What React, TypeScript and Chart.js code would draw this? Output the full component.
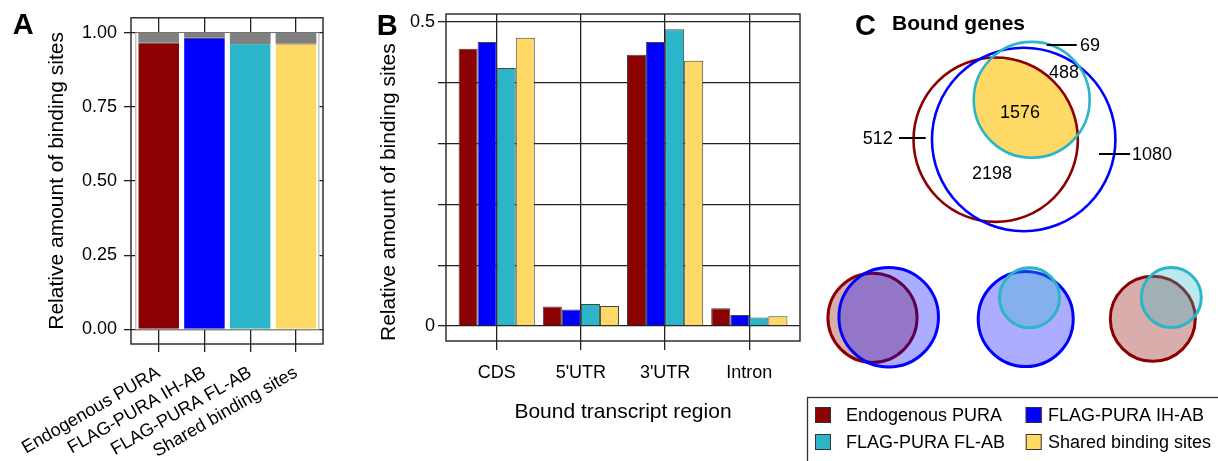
import React, { useEffect, useRef } from 'react';
import { Chart, registerables } from 'chart.js';

Chart.register(...registerables);

const FONT = "'Liberation Sans', Arial, Helvetica, sans-serif";
Chart.defaults.font.family = FONT;
Chart.defaults.color = '#000';

// ---------- shared series ----------
const seriesNames = ['Endogenous PURA', 'FLAG-PURA IH-AB', 'FLAG-PURA FL-AB', 'Shared binding sites'];
const seriesColors = ['#8B0000', '#0000FF', '#2BB5C8', '#FFD966'];

// ---------- panel A ----------
const aBoundShare = [0.967, 0.983, 0.964, 0.963];
const aOtherShare = [0.033, 0.017, 0.036, 0.037];
const aYTicks = [0, 0.25, 0.5, 0.75, 1];

// ---------- panel B ----------
const regions = ['CDS', "5'UTR", "3'UTR", 'Intron'];
const bEndogenous = [0.456, 0.032, 0.446, 0.029];
const bIH = [0.467, 0.027, 0.467, 0.018];
const bFL = [0.424, 0.036, 0.488, 0.014];
const bShared = [0.474, 0.033, 0.436, 0.016];
const bYTicks = [0, 0.1, 0.2, 0.3, 0.4, 0.5];
const bLabelledTicks = [0, 0.5];

// ---------- panel C (Venn counts) ----------
const vennRegionNames = ['Endogenous only', 'IH-AB only', 'FL-AB only', 'Endogenous & IH-AB', 'IH-AB & FL-AB', 'All three'];
const vennRegionCounts = [512, 1080, 69, 2198, 488, 1576];
const vennSetNames = ['Endogenous PURA', 'FLAG-PURA IH-AB', 'FLAG-PURA FL-AB'];
const vennSetColors = ['#8B0000', '#0000FF', '#2BB5C8'];
const vennSetFills = ['rgba(139,0,0,0.32)', 'rgba(0,0,255,0.32)', 'rgba(43,181,200,0.32)'];

// set sizes derived from the region counts
const setSizes = [
  vennRegionCounts[0] + vennRegionCounts[3] + vennRegionCounts[5],
  vennRegionCounts[1] + vennRegionCounts[3] + vennRegionCounts[4] + vennRegionCounts[5],
  vennRegionCounts[2] + vennRegionCounts[4] + vennRegionCounts[5],
];

// layout of the Venn diagrams (canvas-C units)
const vennLayout = [
  { k: 1.255, sets: [0, 1, 2], centers: [[195.7, 139.7], [223.7, 139.5], [231.7, 99.8]], filled: false, lw: 2.6 },
  { k: 0.681, sets: [0, 1], centers: [[72.5, 317.8], [88.7, 317.2]], filled: true, lw: 3 },
  { k: 0.65, sets: [1, 2], centers: [[225.7, 319], [229.5, 297.8]], filled: true, lw: 3 },
  { k: 0.649, sets: [0, 2], centers: [[352.8, 318.8], [371.3, 297.5]], filled: true, lw: 3 },
];
// label placement per region (canvas-C units) and optional leader line
const vennLabelLayout = [
  { x: 77.7, y: 138, align: 'center', lead: [99, 125.7, 138] },
  { x: 332, y: 154.5, align: 'left', lead: [299, 330, 154] },
  { x: 280, y: 45.5, align: 'left', lead: [246.7, 276.7, 45] },
  { x: 192, y: 172.7, align: 'center', lead: null },
  { x: 264, y: 72, align: 'center', lead: null },
  { x: 220, y: 112, align: 'center', lead: null },
];

const letterPlugin = (letter: string, x: number, y: number) => ({
  id: 'letter' + letter,
  afterDraw(chart: any) {
    const ctx = chart.ctx;
    ctx.save();
    ctx.font = `bold 29px ${FONT}`;
    ctx.fillStyle = '#000';
    ctx.textAlign = 'left';
    ctx.textBaseline = 'alphabetic';
    ctx.fillText(letter, x, y);
    ctx.restore();
  },
});

const boxPlugin = {
  id: 'box',
  afterDraw(chart: any) {
    const { ctx, chartArea } = chart;
    ctx.save();
    ctx.strokeStyle = '#222';
    ctx.lineWidth = 1.4;
    ctx.strokeRect(chartArea.left, chartArea.top, chartArea.right - chartArea.left, chartArea.bottom - chartArea.top);
    ctx.restore();
  },
};

const whitePanelPlugin = {
  id: 'whitePanel',
  beforeDatasetsDraw(chart: any) {
    const meta = chart.getDatasetMeta(0);
    const y = chart.scales.y;
    let l = Infinity, r = -Infinity;
    meta.data.forEach((el: any) => {
      l = Math.min(l, el.x - el.width / 2);
      r = Math.max(r, el.x + el.width / 2);
    });
    const ctx = chart.ctx;
    ctx.save();
    const top = y.getPixelForValue(1);
    const bot = y.getPixelForValue(0);
    ctx.fillStyle = '#fff';
    ctx.fillRect(l - 3, top, r - l + 6, bot - top);
    ctx.strokeStyle = '#aaa';
    ctx.lineWidth = 1;
    ctx.beginPath();
    ctx.moveTo(l - 2.5, top);
    ctx.lineTo(l - 2.5, bot);
    ctx.moveTo(r + 2.5, top);
    ctx.lineTo(r + 2.5, bot);
    ctx.stroke();
    ctx.restore();
  },
};

const gridStyle = { color: '#222', lineWidth: 1.3, offset: false };

export default function App() {
  const aRef = useRef<HTMLCanvasElement>(null);
  const bRef = useRef<HTMLCanvasElement>(null);
  const cRef = useRef<HTMLCanvasElement>(null);

  useEffect(() => {
    // ---------------- Panel A ----------------
    const chartA = new Chart(aRef.current!, {
      type: 'bar',
      data: {
        datasets: [
          {
            label: 'bound',
            data: aBoundShare.map((v, i) => ({ x: i + 1, y: v })),
            backgroundColor: seriesColors,
            borderColor: '#333',
            borderWidth: { top: 1, left: 0, right: 0, bottom: 0 },
            borderSkipped: false,
            stack: 's',
            categoryPercentage: 1,
            barPercentage: 0.89,
          },
          {
            label: 'other',
            data: aOtherShare.map((v, i) => ({ x: i + 1, y: v })),
            backgroundColor: '#808080',
            borderWidth: 0,
            stack: 's',
            categoryPercentage: 1,
            barPercentage: 0.89,
          },
        ],
      } as any,
      options: {
        animation: false,
        responsive: false,
        maintainAspectRatio: false,
        layout: { padding: { left: 45, top: 15, right: 37, bottom: 0 } },
        plugins: { legend: { display: false }, tooltip: { enabled: false } },
        scales: {
          x: {
            type: 'linear',
            offset: false,
            min: 0.395,
            max: 4.59,
            stacked: true,
            afterBuildTicks: (s: any) => { s.ticks = [1, 2, 3, 4].map((v) => ({ value: v })); },
            afterFit: (s: any) => { s.height = 117; s.paddingLeft = 0; s.paddingRight = 0; },
            ticks: {
              callback: (v: any) => seriesNames[Math.round(v) - 1],
              minRotation: 30,
              maxRotation: 30,
              autoSkip: false,
              font: { size: 18 },
              color: '#000',
              padding: 10,
            },
            grid: { ...gridStyle, tickLength: 8 },
            border: { display: false },
          },
          y: {
            type: 'linear',
            min: -0.049,
            max: 1.05,
            stacked: true,
            afterBuildTicks: (s: any) => { s.ticks = aYTicks.map((v) => ({ value: v })); },
            afterFit: (s: any) => { s.width = 86; },
            ticks: { callback: (v: any) => Number(v).toFixed(2), font: { size: 18 }, color: '#000', padding: 7 },
            grid: { ...gridStyle, tickLength: 7 },
            border: { display: false },
            title: { display: true, text: 'Relative amount of binding sites', font: { size: 21 }, color: '#000', padding: 0 },
          },
        },
      } as any,
      plugins: [whitePanelPlugin, boxPlugin, letterPlugin('A', 12.7, 34.3)],
    });

    // ---------------- Panel B ----------------
    const bSeries = [bEndogenous, bIH, bFL, bShared];
    const chartB = new Chart(bRef.current!, {
      type: 'bar',
      data: {
        datasets: bSeries.map((vals, si) => ({
          label: seriesNames[si],
          data: vals.map((v, i) => ({ x: i + 1, y: v })),
          backgroundColor: seriesColors[si],
          borderColor: '#444',
          borderWidth: 1,
          categoryPercentage: 0.905,
          barPercentage: 1,
        })),
      } as any,
      options: {
        animation: false,
        responsive: false,
        maintainAspectRatio: false,
        layout: { padding: { left: 17, top: 14, right: 20, bottom: 36 } },
        plugins: { legend: { display: false }, tooltip: { enabled: false } },
        scales: {
          x: {
            type: 'linear',
            offset: false,
            min: 0.398,
            max: 4.602,
            afterBuildTicks: (s: any) => { s.ticks = [1, 2, 3, 4].map((v) => ({ value: v })); },
            afterFit: (s: any) => { s.height = 84; s.paddingLeft = 0; s.paddingRight = 0; },
            ticks: {
              callback: (v: any) => regions[Math.round(v) - 1],
              maxRotation: 0,
              minRotation: 0,
              autoSkip: false,
              font: { size: 18 },
              color: '#000',
              padding: 12,
            },
            grid: { ...gridStyle, tickLength: 9 },
            border: { display: false },
            title: { display: true, text: 'Bound transcript region', font: { size: 21 }, color: '#000', padding: 0 },
          },
          y: {
            type: 'linear',
            min: -0.0247,
            max: 0.513,
            afterBuildTicks: (s: any) => { s.ticks = bYTicks.map((v) => ({ value: v })); },
            afterFit: (s: any) => { s.width = 69; },
            ticks: {
              callback: (v: any) => (bLabelledTicks.some((t) => Math.abs(t - v) < 1e-9) ? String(Number(v)) : ''),
              font: { size: 18 },
              color: '#000',
              padding: 3,
            },
            grid: { ...gridStyle, tickLength: 8 },
            border: { display: false },
            title: { display: true, text: 'Relative amount of binding sites', font: { size: 21 }, color: '#000', padding: 0, align: 'start' },
          },
        },
      } as any,
      plugins: [boxPlugin, letterPlugin('B', 16.7, 35)],
    });

    // ---------------- Panel C ----------------
    const cDatasets: any[] = [];
    vennLayout.forEach((v) => {
      v.sets.forEach((s, j) => {
        cDatasets.push({
          label: vennSetNames[s],
          data: [{ x: v.centers[j][0], y: v.centers[j][1], r: v.k * Math.sqrt(setSizes[s]) }],
          backgroundColor: v.filled ? vennSetFills[s] : 'rgba(0,0,0,0)',
          borderColor: vennSetColors[s],
          borderWidth: v.lw,
          hoverRadius: 0,
          hoverBorderWidth: v.lw,
          clip: false,
          order: -cDatasets.length, // later circles drawn on top
        });
      });
    });

    const vennPlugin = {
      id: 'venn',
      beforeDatasetsDraw(chart: any) {
        // shared region (Endogenous ∩ FL-AB) in main diagram
        const red = chart.getDatasetMeta(0).data[0];
        const cyan = chart.getDatasetMeta(2).data[0];
        const ctx = chart.ctx;
        ctx.save();
        ctx.beginPath();
        ctx.arc(red.x, red.y, red.options.radius, 0, Math.PI * 2);
        ctx.clip();
        ctx.beginPath();
        ctx.arc(cyan.x, cyan.y, cyan.options.radius, 0, Math.PI * 2);
        ctx.fillStyle = seriesColors[3];
        ctx.fill();
        ctx.restore();
      },
      afterDraw(chart: any) {
        const ctx = chart.ctx;
        const xs = chart.scales.x;
        const ys = chart.scales.y;
        ctx.save();
        // title
        ctx.fillStyle = '#000';
        ctx.textBaseline = 'alphabetic';
        ctx.textAlign = 'left';
        ctx.font = `bold 29px ${FONT}`;
        ctx.fillText('C', 55, 35);
        ctx.font = `bold 21px ${FONT}`;
        ctx.fillText('Bound genes', 92, 30);
        // region counts
        ctx.font = `18px ${FONT}`;
        ctx.textBaseline = 'middle';
        ctx.strokeStyle = '#000';
        ctx.lineWidth = 2;
        vennRegionCounts.forEach((c, i) => {
          const L = vennLabelLayout[i];
          const px = xs.getPixelForValue(L.x);
          const py = ys.getPixelForValue(L.y);
          ctx.textAlign = L.align;
          ctx.fillText(String(c), px, py + 1);
          if (L.lead) {
            ctx.beginPath();
            ctx.moveTo(xs.getPixelForValue(L.lead[0]), ys.getPixelForValue(L.lead[2]));
            ctx.lineTo(xs.getPixelForValue(L.lead[1]), ys.getPixelForValue(L.lead[2]));
            ctx.stroke();
          }
        });
        // legend
        ctx.strokeStyle = '#333';
        ctx.lineWidth = 1.3;
        ctx.strokeRect(7.5, 397.5, 460, 100);
        const cols = [15, 225.7];
        const textX = [46, 248];
        const rows = [415, 442];
        seriesNames.forEach((name, i) => {
          const col = i % 2;
          const row = Math.floor(i / 2);
          ctx.fillStyle = seriesColors[i];
          ctx.fillRect(cols[col], rows[row] - 8, 16, 16);
          ctx.strokeStyle = '#333';
          ctx.lineWidth = 1;
          ctx.strokeRect(cols[col] + 0.5, rows[row] - 7.5, 15, 15);
          ctx.fillStyle = '#000';
          ctx.textAlign = 'left';
          ctx.textBaseline = 'middle';
          ctx.fillText(name, textX[col], rows[row] + 1);
        });
        ctx.restore();
      },
    };

    const chartC = new Chart(cRef.current!, {
      type: 'bubble',
      data: { datasets: cDatasets },
      options: {
        animation: false,
        responsive: false,
        maintainAspectRatio: false,
        layout: { padding: 0, autoPadding: false },
        plugins: { legend: { display: false }, tooltip: { enabled: false } },
        scales: {
          x: { type: 'linear', min: 0, max: 418, display: false },
          y: { type: 'linear', min: 0, max: 461, reverse: true, display: false },
        },
      } as any,
      plugins: [vennPlugin],
    });

    return () => {
      chartA.destroy();
      chartB.destroy();
      chartC.destroy();
    };
  }, []);

  return (
    <div style={{ position: 'absolute', left: 0, top: 0, width: 1218, height: 461, background: '#fff', overflow: 'hidden' }}>
      <canvas ref={aRef} width={360} height={461} style={{ position: 'absolute', left: 0, top: 0 }} />
      <canvas ref={bRef} width={460} height={461} style={{ position: 'absolute', left: 360, top: 0 }} />
      <canvas ref={cRef} width={418} height={461} style={{ position: 'absolute', left: 800, top: 0 }} />
    </div>
  );
}
